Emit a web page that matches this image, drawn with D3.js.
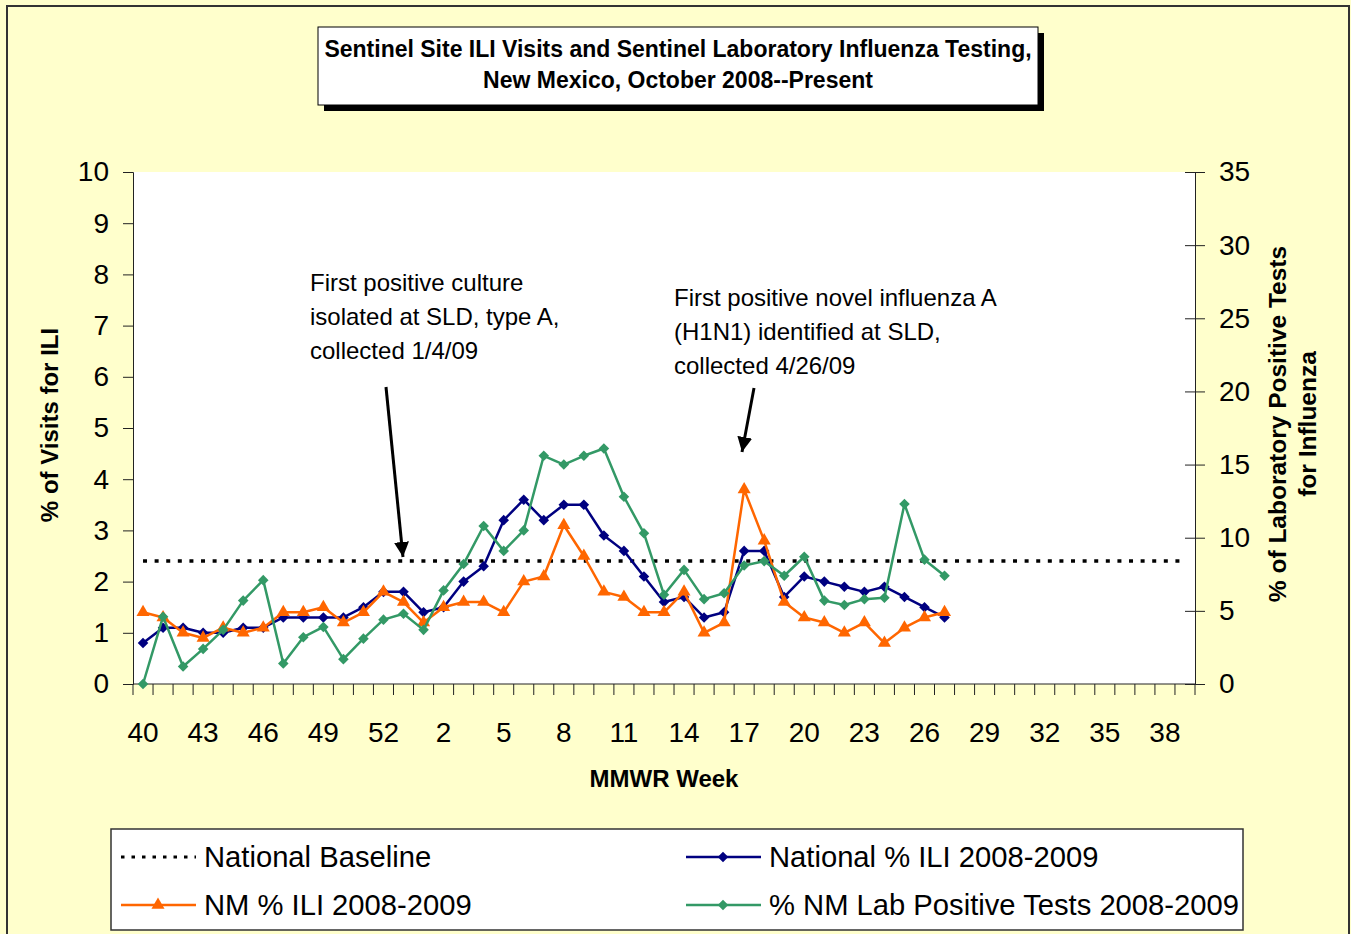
<!DOCTYPE html>
<html>
<head>
<meta charset="utf-8">
<script src="https://cdn.jsdelivr.net/npm/d3@7"></script>
<style>
  html, body { margin: 0; padding: 0; background: #FFFFCC; }
  svg { display: block; font-family: "Liberation Sans", Arial, sans-serif; }
</style>
</head>
<body>
<svg id="chart" width="1351" height="934"></svg>
<script>
// ---------- DATA ----------
const weeks = [40,41,42,43,44,45,46,47,48,49,50,51,52,53,1,2,3,4,5,6,7,8,9,10,11,12,13,14,15,16,17,18,19,20,21,22,23,24,25,26,27,28,29,30,31,32,33,34,35,36,37,38,39];
const tickWeeks = [40,43,46,49,52,2,5,8,11,14,17,20,23,26,29,32,35,38];
const nationalBaseline = 2.4;
// weeks 40 (2008) through 27 (2009)
const nationalILI = [0.8,1.1,1.1,1.0,1.0,1.1,1.1,1.3,1.3,1.3,1.3,1.5,1.8,1.8,1.4,1.5,2.0,2.3,3.2,3.6,3.2,3.5,3.5,2.9,2.6,2.1,1.6,1.7,1.3,1.4,2.6,2.6,1.7,2.1,2.0,1.9,1.8,1.9,1.7,1.5,1.3];
const nmILI = [1.4,1.3,1.0,0.9,1.1,1.0,1.1,1.4,1.4,1.5,1.2,1.4,1.8,1.6,1.2,1.5,1.6,1.6,1.4,2.0,2.1,3.1,2.5,1.8,1.7,1.4,1.4,1.8,1.0,1.2,3.8,2.8,1.6,1.3,1.2,1.0,1.2,0.8,1.1,1.3,1.4];
const labPositive = [0,4.6,1.2,2.4,3.7,5.7,7.1,1.4,3.2,3.9,1.7,3.1,4.4,4.8,3.7,6.4,8.2,10.8,9.1,10.5,15.6,15.0,15.6,16.1,12.8,10.3,6.1,7.8,5.8,6.2,8.1,8.4,7.4,8.7,5.7,5.4,5.8,5.9,12.3,8.5,7.4];
const leftTicks = [0,1,2,3,4,5,6,7,8,9,10];
const rightTicks = [0,5,10,15,20,25,30,35];
const legendLabels = ["National Baseline","National % ILI 2008-2009","NM % ILI 2008-2009","% NM Lab Positive Tests 2008-2009"];
const titleLines = ["Sentinel Site ILI Visits and Sentinel Laboratory Influenza Testing,","New Mexico, October 2008--Present"];
const note1 = ["First positive culture","isolated at SLD, type A,","collected 1/4/09"];
const note2 = ["First positive novel influenza A","(H1N1) identified at SLD,","collected 4/26/09"];

// ---------- SETUP ----------
const COL_NAT = "#000080", COL_NM = "#FF6600", COL_LAB = "#339966";
const svg = d3.select("#chart");
const L = 133, R = 1195, T = 172, B = 684;

svg.append("rect").attr("x",0).attr("y",0).attr("width",1351).attr("height",934).attr("fill","#FFFFCC");
svg.append("rect").attr("x",7).attr("y",6).attr("width",1342).attr("height",960)
  .attr("fill","none").attr("stroke","#333").attr("stroke-width",2);

const x = d3.scaleBand().domain(d3.range(weeks.length)).range([L,R]).padding(0);
const cx = i => x(i) + x.bandwidth()/2;
const y = d3.scaleLinear().domain([0,10]).range([B,T]);
const y2 = d3.scaleLinear().domain([0,35]).range([B,T]);

// plot area
svg.append("rect").attr("x",L).attr("y",T).attr("width",R-L).attr("height",B-T).attr("fill","#fff");

// left axis
const gL = svg.append("g").attr("transform",`translate(${L},0)`)
  .call(d3.axisLeft(y).tickValues(leftTicks).tickSize(10).tickPadding(14).tickFormat(d3.format("d")));
gL.selectAll("text").attr("font-size",28).attr("fill","#000").attr("font-family","Liberation Sans, Arial");
gL.selectAll("line,path").attr("stroke","#222");

// right axis (cross ticks)
const gR = svg.append("g").attr("transform",`translate(${R},0)`)
  .call(d3.axisRight(y2).tickValues(rightTicks).tickSize(10).tickPadding(14).tickFormat(d3.format("d")));
gR.selectAll(".tick").append("line").attr("x1",-10).attr("x2",0).attr("stroke","#222");
gR.selectAll("text").attr("font-size",28).attr("fill","#000").attr("font-family","Liberation Sans, Arial");
gR.selectAll("line,path").attr("stroke","#222");

// bottom axis: ticks between categories
const gB = svg.append("g");
gB.append("line").attr("x1",L).attr("x2",R).attr("y1",B).attr("y2",B).attr("stroke","#222");
const bounds = d3.range(weeks.length+1).map(i => i < weeks.length ? x(i) : x(weeks.length-1)+x.bandwidth());
gB.selectAll("line.t").data(bounds).join("line").attr("class","t")
  .attr("x1",d=>d).attr("x2",d=>d).attr("y1",B).attr("y2",B+11).attr("stroke","#222");
gB.selectAll("text").data(weeks.map((w,i)=>({w,i})).filter(d=>tickWeeks.includes(d.w)))
  .join("text").attr("x",d=>cx(d.i)).attr("y",742).attr("text-anchor","middle")
  .attr("font-size",28).text(d=>d.w);

// axis titles
svg.append("text").attr("x",664).attr("y",787).attr("text-anchor","middle")
  .attr("font-size",24).attr("font-weight","bold").text("MMWR Week");
svg.append("text").attr("transform","translate(58,425) rotate(-90)").attr("text-anchor","middle")
  .attr("font-size",24).attr("font-weight","bold").text("% of Visits for ILI");
svg.append("text").attr("transform","translate(1286,424) rotate(-90)").attr("text-anchor","middle")
  .attr("font-size",24.5).attr("font-weight","bold").text("% of Laboratory Positive Tests");
svg.append("text").attr("transform","translate(1316,424) rotate(-90)").attr("text-anchor","middle")
  .attr("font-size",24.5).attr("font-weight","bold").text("for Influenza");

// baseline
const baseData = weeks.map(()=>nationalBaseline);
svg.append("path").datum(baseData)
  .attr("d", d3.line().x((d,i)=>cx(i)).y(d=>y(d)))
  .attr("fill","none").attr("stroke","#000").attr("stroke-width",3.5).attr("stroke-dasharray","4,7.6");

// series
const diamond = d3.symbol().type(d3.symbolSquare).size(56);
const tri = d3.symbol().type(d3.symbolTriangle).size(74);
function drawSeries(vals, scale, color, sym, rot) {
  const g = svg.append("g");
  g.append("path").datum(vals)
    .attr("d", d3.line().x((d,i)=>cx(i)).y(d=>scale(d)))
    .attr("fill","none").attr("stroke",color).attr("stroke-width",2.5).attr("stroke-linejoin","round");
  g.selectAll("path.m").data(vals).join("path").attr("class","m")
    .attr("d", sym)
    .attr("transform",(d,i)=>`translate(${cx(i)},${scale(d)}) rotate(${rot})`)
    .attr("fill",color);
}
drawSeries(nationalILI, y, COL_NAT, diamond, 45);
drawSeries(nmILI, y, COL_NM, tri, 0);
drawSeries(labPositive, y2, COL_LAB, diamond, 45);

// annotations
svg.append("defs").append("marker").attr("id","ah").attr("viewBox","0 0 10 10")
  .attr("refX",10).attr("refY",5).attr("markerWidth",5).attr("markerHeight",5)
  .attr("markerUnits","strokeWidth").attr("orient","auto")
  .append("path").attr("d","M0,0 L10,5 L0,10 Z").attr("fill","#000");
function note(lines, x0, y0) {
  const t = svg.append("text").attr("font-size",24).attr("fill","#000");
  lines.forEach((s,k)=>t.append("tspan").attr("x",x0).attr("y",y0+k*34).text(s));
}
note(note1, 310, 291);
note(note2, 674, 306);
svg.append("line").attr("x1",386).attr("y1",387).attr("x2",403).attr("y2",557)
  .attr("stroke","#000").attr("stroke-width",3).attr("marker-end","url(#ah)");
svg.append("line").attr("x1",754).attr("y1",388).attr("x2",742).attr("y2",452)
  .attr("stroke","#000").attr("stroke-width",3).attr("marker-end","url(#ah)");

// title box
svg.append("rect").attr("x",324).attr("y",33).attr("width",720).attr("height",78).attr("fill","#000");
svg.append("rect").attr("x",318).attr("y",27).attr("width",720).attr("height",78)
  .attr("fill","#fff").attr("stroke","#000").attr("stroke-width",1);
titleLines.forEach((s,k)=>svg.append("text").attr("x",678).attr("y",57+k*31)
  .attr("text-anchor","middle").attr("font-size",23).attr("font-weight","bold").text(s));

// legend
const lg = svg.append("g");
lg.append("rect").attr("x",111).attr("y",829).attr("width",1132).attr("height",101)
  .attr("fill","#fff").attr("stroke","#333").attr("stroke-width",1.5);
const items = [
  {label:legendLabels[0], x:121, y:857, color:"#000", dash:"3.5,7", sym:null},
  {label:legendLabels[1], x:686, y:857, color:COL_NAT, dash:null, sym:diamond, rot:45},
  {label:legendLabels[2], x:121, y:905, color:COL_NM, dash:null, sym:tri, rot:0},
  {label:legendLabels[3], x:686, y:905, color:COL_LAB, dash:null, sym:diamond, rot:45}
];
items.forEach(it=>{
  lg.append("line").attr("x1",it.x).attr("x2",it.x+75).attr("y1",it.y).attr("y2",it.y)
    .attr("stroke",it.color).attr("stroke-width",it.dash?3:2.5).attr("stroke-dasharray",it.dash);
  if (it.sym) lg.append("path").attr("d",it.sym)
    .attr("transform",`translate(${it.x+37},${it.y}) rotate(${it.rot})`).attr("fill",it.color);
  lg.append("text").attr("x",it.x+83).attr("y",it.y+10).attr("font-size",29.2).text(it.label);
});
</script>
</body>
</html>
